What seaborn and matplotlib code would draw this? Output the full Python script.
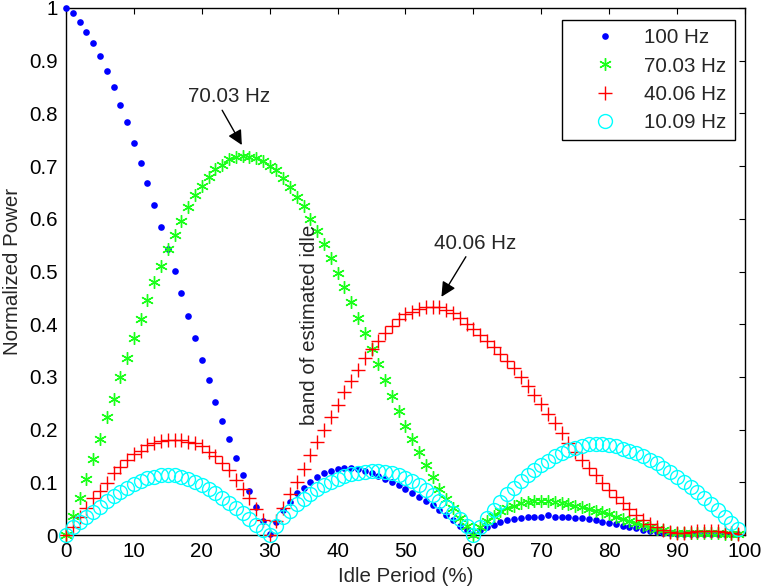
import numpy as np
import pandas as pd
import matplotlib
matplotlib.use("Agg")
import matplotlib.pyplot as plt
import seaborn as sns

idle = list(range(100))  # idle period in %

p100 = [1.000, 0.991, 0.973, 0.955, 0.934, 0.908, 0.881, 0.851, 0.816, 0.783,
        0.744, 0.706, 0.667, 0.626, 0.584, 0.543, 0.501, 0.460, 0.416, 0.374,
        0.332, 0.294, 0.253, 0.217, 0.182, 0.146, 0.114, 0.084, 0.054, 0.027,
        0.002, 0.025, 0.047, 0.063, 0.079, 0.090, 0.101, 0.111, 0.117, 0.122,
        0.125, 0.128, 0.128, 0.125, 0.121, 0.117, 0.112, 0.106, 0.100, 0.094,
        0.087, 0.080, 0.073, 0.065, 0.057, 0.048, 0.038, 0.028, 0.018, 0.009,
        0.002, 0.009, 0.015, 0.019, 0.025, 0.028, 0.030, 0.033, 0.035, 0.035,
        0.035, 0.038, 0.035, 0.035, 0.035, 0.033, 0.032, 0.031, 0.028, 0.025,
        0.022, 0.021, 0.018, 0.016, 0.013, 0.009, 0.008, 0.006, 0.004, 0.003,
        0.002, 0.002, 0.002, 0.002, 0.002, 0.002, 0.002, 0.002, 0.001, 0.001]

p70 = [0.000, 0.037, 0.071, 0.106, 0.145, 0.183, 0.223, 0.258, 0.299, 0.335,
       0.373, 0.409, 0.445, 0.481, 0.511, 0.543, 0.569, 0.596, 0.623, 0.645,
       0.663, 0.680, 0.694, 0.703, 0.713, 0.718, 0.720, 0.718, 0.715, 0.710,
       0.701, 0.693, 0.678, 0.660, 0.642, 0.624, 0.600, 0.577, 0.553, 0.525,
       0.498, 0.471, 0.443, 0.412, 0.383, 0.353, 0.324, 0.295, 0.264, 0.235,
       0.207, 0.182, 0.158, 0.133, 0.111, 0.087, 0.068, 0.051, 0.032, 0.017,
       0.000, 0.015, 0.026, 0.036, 0.045, 0.051, 0.056, 0.060, 0.063, 0.064,
       0.064, 0.064, 0.063, 0.061, 0.059, 0.056, 0.053, 0.050, 0.046, 0.043,
       0.039, 0.035, 0.031, 0.027, 0.023, 0.019, 0.015, 0.012, 0.009, 0.006,
       0.004, 0.003, 0.003, 0.003, 0.003, 0.003, 0.003, 0.002, 0.002, 0.001]

p40 = [0.000, 0.016, 0.034, 0.052, 0.070, 0.084, 0.099, 0.117, 0.130, 0.142,
       0.154, 0.160, 0.170, 0.175, 0.178, 0.181, 0.181, 0.180, 0.177, 0.174,
       0.168, 0.158, 0.150, 0.137, 0.123, 0.104, 0.087, 0.070, 0.050, 0.028,
       0.000, 0.027, 0.052, 0.077, 0.101, 0.126, 0.151, 0.176, 0.200, 0.224,
       0.247, 0.271, 0.292, 0.314, 0.336, 0.353, 0.368, 0.383, 0.397, 0.409,
       0.419, 0.424, 0.428, 0.432, 0.433, 0.432, 0.427, 0.421, 0.411, 0.400,
       0.390, 0.380, 0.369, 0.357, 0.344, 0.331, 0.317, 0.300, 0.283, 0.266,
       0.248, 0.230, 0.212, 0.193, 0.175, 0.158, 0.142, 0.127, 0.113, 0.099,
       0.086, 0.073, 0.061, 0.049, 0.038, 0.029, 0.021, 0.015, 0.010, 0.006,
       0.003, 0.004, 0.006, 0.007, 0.008, 0.008, 0.007, 0.006, 0.004, 0.002]

p10 = [0.000, 0.015, 0.025, 0.034, 0.044, 0.054, 0.065, 0.074, 0.082, 0.090,
       0.097, 0.103, 0.108, 0.111, 0.113, 0.114, 0.113, 0.111, 0.106, 0.100,
       0.094, 0.087, 0.079, 0.070, 0.061, 0.051, 0.041, 0.030, 0.019, 0.009,
       0.000, 0.018, 0.034, 0.046, 0.058, 0.068, 0.078, 0.087, 0.094, 0.101,
       0.107, 0.112, 0.115, 0.118, 0.120, 0.121, 0.121, 0.120, 0.117, 0.113,
       0.108, 0.102, 0.095, 0.086, 0.075, 0.064, 0.053, 0.042, 0.031, 0.017,
       0.000, 0.016, 0.032, 0.047, 0.063, 0.077, 0.090, 0.102, 0.114, 0.123,
       0.132, 0.141, 0.149, 0.156, 0.162, 0.166, 0.169, 0.172, 0.173, 0.173,
       0.171, 0.168, 0.164, 0.160, 0.155, 0.150, 0.143, 0.136, 0.128, 0.120,
       0.111, 0.101, 0.092, 0.081, 0.070, 0.059, 0.047, 0.035, 0.023, 0.012]

labels = ["100 Hz", "70.03 Hz", "40.06 Hz", "10.09 Hz"]

df = pd.DataFrame({"idle": idle, labels[0]: p100, labels[1]: p70,
                   labels[2]: p40, labels[3]: p10})

sns.set_style("white")
plt.rcParams['font.family'] = ['Liberation Sans', 'DejaVu Sans']
FS = 14.8

fig = plt.figure(figsize=(7.64, 5.88), dpi=100)
ax = fig.add_axes([0.0864, 0.0901, 0.8886, 0.8963])

# marker styles, MATLAB look
blue, green, red, cyan = (0, 0, 1), (0.1, 1, 0.1), (1, 0, 0), (0, 1, 1)
styles = [
    dict(marker='o', color=blue, markersize=4.8, markeredgewidth=0,
         markeredgecolor=blue),
    dict(marker=(6, 2, 0), color=green, markersize=9, markeredgewidth=1,
         markeredgecolor=green),
    dict(marker='+', color=red, markersize=9.5, markeredgewidth=1,
         markeredgecolor=red),
    dict(marker='o', color=cyan, markersize=10, markeredgewidth=1,
         markeredgecolor=cyan, markerfacecolor='none'),
]
for lab, st in zip(labels, styles):
    sns.lineplot(data=df, x="idle", y=lab, ax=ax, linestyle='none', label=lab,
                 clip_on=False, zorder=3, **st)

ax.set_xlim(0, 100)
ax.set_ylim(0, 1)
ax.set_xticks(range(0, 101, 10))
yt = np.round(np.arange(0, 1.01, 0.1), 1)
ax.set_yticks(yt)
ax.set_yticklabels(["%g" % v for v in yt])
ax.tick_params(direction='in', length=4.5, width=0.8, top=True, right=True,
               labelsize=FS, colors='k', pad=5)
ax.tick_params(axis='y', pad=6)
for s in ax.spines.values():
    s.set_color('k')
    s.set_linewidth(1.0)

ax.set_xlabel("Idle Period (%)", fontsize=FS, labelpad=4)
ax.set_ylabel("Normalized Power", fontsize=FS, labelpad=5)

# annotations
ax.text(24.0, 0.833, "70.03 Hz", fontsize=FS, ha='center', va='center')
ax.annotate("", xy=(25.9, 0.740), xytext=(23.0, 0.806),
            arrowprops=dict(arrowstyle='-|>', color='k', lw=1, mutation_scale=22,
                            shrinkA=0, shrinkB=0))
ax.text(60.2, 0.554, "40.06 Hz", fontsize=FS, ha='center', va='center')
ax.annotate("", xy=(55.3, 0.452), xytext=(58.9, 0.528),
            arrowprops=dict(arrowstyle='-|>', color='k', lw=1, mutation_scale=22,
                            shrinkA=0, shrinkB=0))
ax.text(35.9, 0.398, "band of estimated idle", fontsize=FS, rotation=90,
        ha='center', va='center')

leg = ax.legend(loc='upper right', bbox_to_anchor=(0.985, 0.977), fontsize=FS,
                frameon=True, fancybox=False, edgecolor='k', framealpha=1,
                borderaxespad=0, borderpad=0.4, handlelength=3.4,
                handletextpad=0.2, labelspacing=0.45)
leg.get_frame().set_linewidth(1.0)
leg.set_zorder(5)

fig.savefig("out.png", dpi=100)
